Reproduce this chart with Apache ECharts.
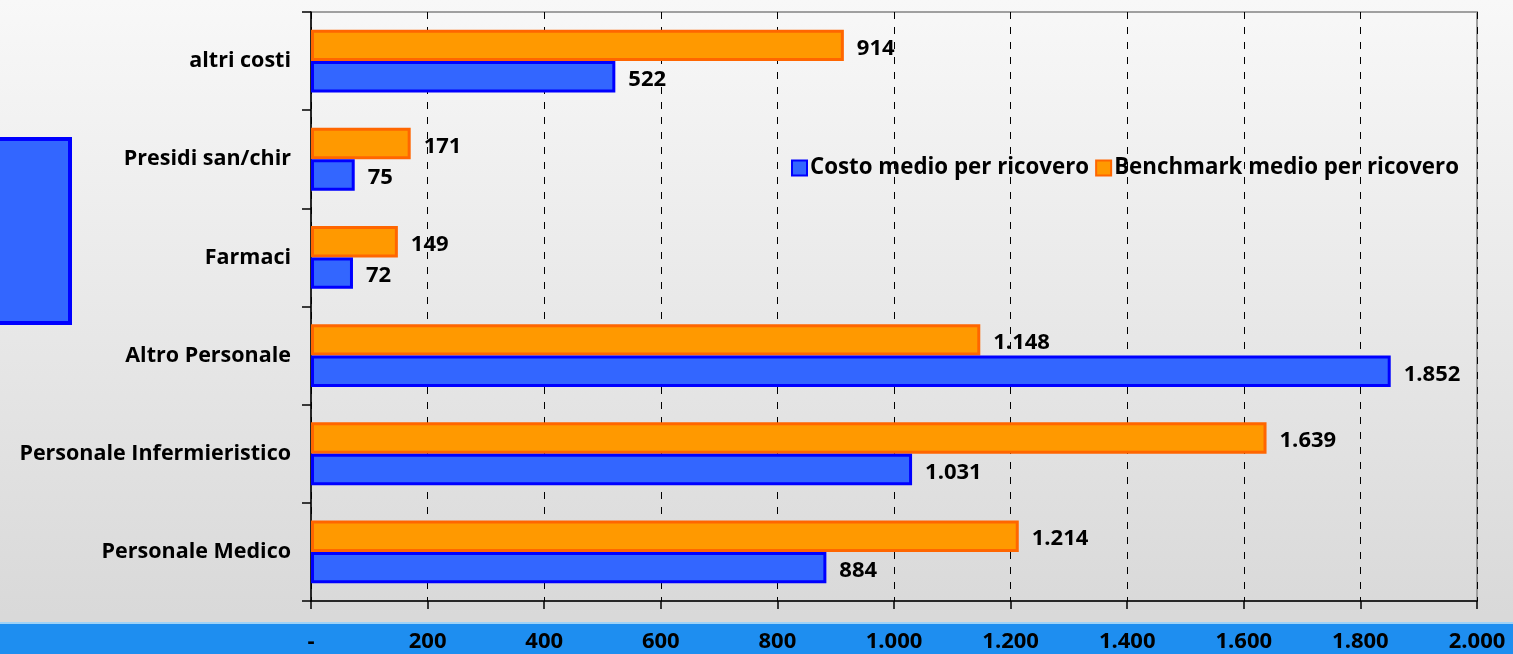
<!DOCTYPE html>
<html><head><meta charset="utf-8">
<script src="https://cdn.jsdelivr.net/npm/echarts@6/dist/echarts.min.js"></script>
<style>html,body{margin:0;padding:0;overflow:hidden;} #c{width:1513px;height:654px;}</style>
</head><body><div id="c"></div>
<script>
const categories = ['Personale Medico', 'Personale Infermieristico', 'Altro Personale', 'Farmaci', 'Presidi san/chir', 'altri costi'];
const costoMedio = [884, 1031, 1852, 72, 75, 522];
const benchmarkMedio = [1214, 1639, 1148, 149, 171, 914];
const xTickLabels = ['-', '200', '400', '600', '800', '1.000', '1.200', '1.400', '1.600', '1.800', '2.000'];
const seriesNames = ['Costo medio per ricovero', 'Benchmark medio per ricovero'];

function fmt(n) { return String(n).replace(/\B(?=(\d{3})+(?!\d))/g, '.'); }

const FONT = 'Open Sans';
const chart = echarts.init(document.getElementById('c'), null, {renderer: 'canvas'});
const labelStyle = {
  show: true, position: 'right', distance: 13, color: '#000', fontFamily: FONT,
  fontWeight: 'bold', fontSize: 22, offset: [0, 3],
  formatter: p => fmt(p.value)
};
chart.setOption({
  animation: false,
  backgroundColor: {
    type: 'linear', x: 0, y: 0, x2: 0, y2: 1,
    colorStops: [{offset: 0, color: '#f8f8f8'}, {offset: 0.94, color: '#d9d9d9'}, {offset: 1, color: '#d9d9d9'}]
  },
  graphic: [
    {type: 'rect', z: -10, silent: true, shape: {x: 0, y: 623, width: 1513, height: 31},
      style: {fill: '#1e8ef0'}},
    {type: 'rect', z: -9, silent: true, shape: {x: 0, y: 622, width: 1513, height: 2},
      style: {fill: '#9fd2f7'}},
    {type: 'rect', z: 10, silent: true, shape: {x: -10, y: 139, width: 80, height: 184},
      style: {fill: '#3366ff', stroke: '#0000ff', lineWidth: 4}}
  ],
  grid: {left: 311, right: 36, top: 12, bottom: 53, show: true, borderColor: '#a0a0a0', borderWidth: 2, backgroundColor: 'transparent'},
  legend: {
    data: seriesNames, left: 786, top: 152, orient: 'horizontal', icon: 'rect',
    itemWidth: 15, itemHeight: 15, itemGap: 6,
    textStyle: {fontFamily: FONT, fontWeight: 'bold', fontSize: 22.3, color: '#000', padding: [0, 0, 0, -2]}
  },
  xAxis: {
    type: 'value', min: 0, max: 2000, interval: 200,
    axisLine: {show: true, lineStyle: {color: '#000', width: 1.5}},
    axisTick: {show: true, length: 8, lineStyle: {color: '#000', width: 1.5}},
    splitLine: {show: true, lineStyle: {color: '#000', type: [7, 8], width: 1}},
    axisLabel: {margin: 30, color: '#000', fontFamily: FONT, fontWeight: 'bold', fontSize: 22,
      formatter: v => xTickLabels[Math.round(v / 200)]}
  },
  yAxis: {
    type: 'category', data: categories,
    axisLine: {show: true, lineStyle: {color: '#000', width: 1.5}},
    axisTick: {show: true, length: 9, lineStyle: {color: '#000', width: 1.5}},
    axisLabel: {margin: 20, color: '#000', fontFamily: FONT, fontWeight: 'bold', fontSize: 21.5,
      padding: [6, 0, 0, 0]}
  },
  series: [
    {name: seriesNames[1], type: 'bar', data: benchmarkMedio, barGap: '0%', barCategoryGap: '36%',
      itemStyle: {color: '#ff9900', borderColor: '#ff6600', borderWidth: 3},
      label: labelStyle},
    {name: seriesNames[0], type: 'bar', data: costoMedio, barGap: '0%', barCategoryGap: '36%',
      itemStyle: {color: '#3366ff', borderColor: '#0000ff', borderWidth: 3},
      label: labelStyle}
  ]
});
</script></body></html>
